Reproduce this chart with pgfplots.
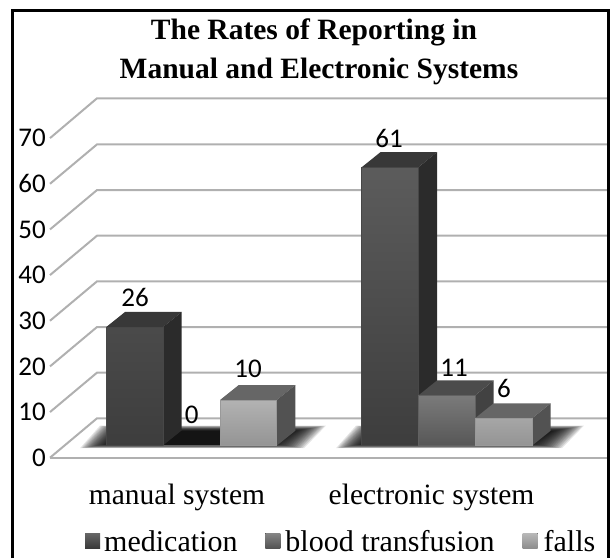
\documentclass[border=0pt]{standalone}
\usepackage{fontspec}
\setmainfont{Liberation Serif}
\newfontfamily\carl{Carlito}
\usepackage{pgfplots}
\pgfplotsset{compat=1.18}
\definecolor{gridc}{HTML}{B0B0B0}
\pgfplotsset{
 gl/.style={forget plot,draw=gridc,line width=2pt,no marks},
 face/.style={forget plot,draw=none,fill=#1,no marks},
}
\begin{document}
\begin{tikzpicture}[x=1pt,y=1pt]
\path[use as bounding box] (0,0) rectangle (610,558);
\begin{axis}[
 at={(0pt,0pt)},anchor=south west,scale only axis,width=610pt,height=558pt,
 xmin=0,xmax=610,ymin=-24.6,ymax=97.63,clip=false,
 axis line style={draw=none},major tick length=0pt,
 xtick={177,431.5},xticklabels={manual system,electronic system},
 xticklabel style={font=\fontsize{29.5}{30}\selectfont,anchor=center,yshift=61pt},
 ytick={-2.63,7.37,17.37,27.37,37.37,47.37,57.37,67.37},
 yticklabels={0,10,20,30,40,50,60,70},
 yticklabel style={font=\carl\fontsize{27}{28}\selectfont,anchor=east,xshift=46pt,inner sep=0pt},
 legend style={at={(85pt,3pt)},anchor=south west,draw=none,fill=none,
   font=\fontsize{30}{31}\selectfont,legend columns=3,inner sep=0pt,
   /tikz/every even column/.append style={column sep=26pt}},
 legend cell align=left,
]
% grid
\addplot[gl] coordinates {(50,-2.63)(97,6)(609,6)};
\addplot[gl] coordinates {(50,7.37)(97,16)(609,16)};
\addplot[gl] coordinates {(50,17.37)(97,26)(609,26)};
\addplot[gl] coordinates {(50,27.37)(97,36)(609,36)};
\addplot[gl] coordinates {(50,37.37)(97,46)(609,46)};
\addplot[gl] coordinates {(50,47.37)(97,56)(609,56)};
\addplot[gl] coordinates {(50,57.37)(97,66)(609,66)};
\addplot[gl] coordinates {(50,67.37)(97,76.1)(609,76.1)};
\addplot[gl] coordinates {(50,-2.63)(609,-2.63)};
% floor shadows
\pgfplotsinvokeforeach{0,1,...,21}{
 \fill[black,opacity=0.1] (axis cs:{80+1.5*#1},{-0.55+0.05*#1}) -- (axis cs:{100+1.2*#1},{4.4-0.06*#1}) -- (axis cs:{326-1.6*#1},{4.4-0.06*#1}) -- (axis cs:{304-1.6*#1},{-0.55+0.05*#1}) -- cycle;
 \fill[black,opacity=0.1] (axis cs:{336+1.5*#1},{-0.55+0.05*#1}) -- (axis cs:{356+1.2*#1},{4.4-0.06*#1}) -- (axis cs:{584-1.6*#1},{4.4-0.06*#1}) -- (axis cs:{562-1.6*#1},{-0.55+0.05*#1}) -- cycle;
}
% medication
\addplot[face=black!78] coordinates {(106.3,26)(163,26)(181.7,29.29)(125,29.29)} --cycle;
\addplot[face=black!83] coordinates {(163,0)(181.7,3.29)(181.7,29.29)(163,26)} --cycle;
\addplot[face=black!78] coordinates {(361.7,61)(418.3,61)(437,64.29)(380.4,64.29)} --cycle;
\addplot[face=black!83] coordinates {(418.3,0)(437,3.29)(437,64.29)(418.3,61)} --cycle;
\addplot[ybar,bar width=56.7,bar shift=0pt,draw=black!72,line width=0.6pt,top color=black!64,bottom color=black!76,
  legend image code/.code={\fill[draw=none,top color=black!60,bottom color=black!78] (0pt,-7pt) rectangle (15pt,8pt);\path[draw=none] (0pt,0pt) -- (17pt,0pt);}]
  coordinates {(134.65,26)(390,61)};
\addlegendentry{medication}
% blood transfusion
\addplot[face=black!92] coordinates {(163,0)(219.7,0)(238.4,3.29)(181.7,3.29)} --cycle;
\addplot[face=black!70] coordinates {(418.3,11)(475,11)(493.7,14.29)(437,14.29)} --cycle;
\addplot[face=black!74] coordinates {(475,0)(493.7,3.29)(493.7,14.29)(475,11)} --cycle;
\addplot[ybar,bar width=56.7,bar shift=0pt,draw=black!62,line width=0.6pt,top color=black!52,bottom color=black!66,
  legend image code/.code={\fill[draw=none,top color=black!48,bottom color=black!68] (0pt,-7pt) rectangle (15pt,8pt);\path[draw=none] (0pt,0pt) -- (18pt,0pt);}]
  coordinates {(191.65,0)(446.65,11)};
\addlegendentry{blood transfusion}
% falls
\addplot[face=black!60] coordinates {(220,10)(276.7,10)(295.4,13.29)(238.7,13.29)} --cycle;
\addplot[face=black!68] coordinates {(276.7,0)(295.4,3.29)(295.4,13.29)(276.7,10)} --cycle;
\addplot[face=black!60] coordinates {(475,6)(532,6)(550.7,9.29)(493.7,9.29)} --cycle;
\addplot[face=black!68] coordinates {(532,0)(550.7,3.29)(550.7,9.29)(532,6)} --cycle;
\addplot[ybar,bar width=56.7,bar shift=0pt,draw=black!40,line width=0.6pt,top color=black!30,bottom color=black!42,
  legend image code/.code={\fill[draw=none,top color=black!28,bottom color=black!45] (0pt,-7pt) rectangle (15pt,8pt);\path[draw=none] (0pt,0pt) -- (19pt,0pt);}]
  coordinates {(248.35,10)(503.5,6)};
\addlegendentry{falls}
\end{axis}
% frame
\draw[black,line width=3pt] (12,0) -- (12,547) -- (608.5,547) -- (608.5,0);
% title
\node[font=\bfseries\fontsize{29.5}{30}\selectfont,inner sep=0pt] at (314,526) {The Rates of Reporting in};
\node[font=\bfseries\fontsize{29.5}{30}\selectfont,inner sep=0pt] at (319,487) {Manual and Electronic Systems};
% value labels
\begin{scope}[every node/.style={font=\carl\fontsize{27}{28}\selectfont,inner sep=0pt}]
\node at (135,261) {26};
\node at (191.7,143) {0};
\node at (248,189) {10};
\node at (389,420) {61};
\node at (454,190) {11};
\node at (504,170) {6};
\end{scope}
\end{tikzpicture}
\end{document}
